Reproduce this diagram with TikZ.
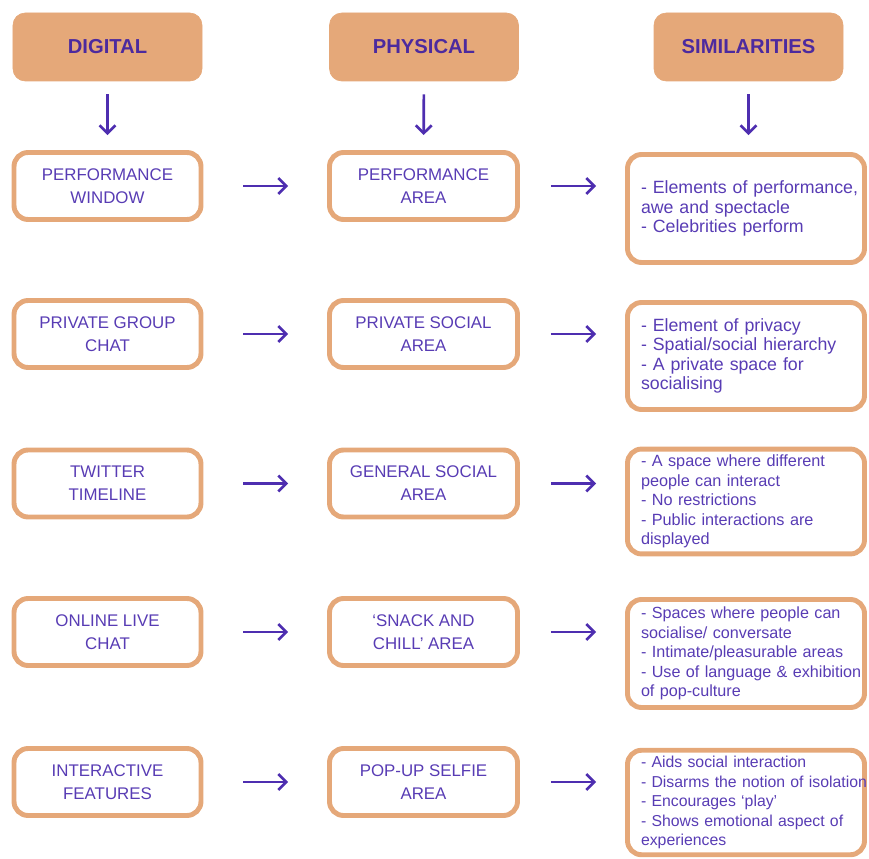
\documentclass[tikz,border=0pt]{standalone}
\usepackage{fontspec}
\setmainfont{Liberation Sans}
\usepackage{tikz}
\usetikzlibrary{arrows.meta,positioning,calc}
\definecolor{peach}{RGB}{229,168,121}
\definecolor{inkdark}{RGB}{76,42,158}
\definecolor{ink}{RGB}{88,60,180}
\definecolor{arrowink}{RGB}{78,46,176}

\begin{document}
\begin{tikzpicture}[
  head/.style={rectangle,rounded corners=7pt,draw=peach,fill=peach,
    minimum width=3.78cm,minimum height=1.36cm,align=center,
    font=\fontsize{11.5}{13}\selectfont\bfseries,text=inkdark},
  item/.style={rectangle,rounded corners=8pt,draw=peach,line width=2.8pt,
    minimum width=#1,minimum height=1.34cm,align=center,
    font=\fontsize{9.6}{13}\selectfont,text=ink},
  item/.default=3.74cm,
  note/.style={rectangle,rounded corners=8pt,draw=peach,line width=2.8pt,
    minimum width=4.74cm,text width=4.2cm,align=left,inner xsep=0.27cm,
    font=\fontsize{#1}{11.1}\selectfont,text=ink},
  note/.default=10.1,
  flow/.style={-{Straight Barb[length=4.5pt,width=9pt]},arrowink,line width=1.5pt}
]
\useasboundingbox (0,0) rectangle (17.38,-17.18);

% Column headers
\node[head] (hd) at (2.15,-0.94)  {DIGITAL};
\node[head] (hp) at (8.48,-0.94)  {PHYSICAL};
\node[head] (hs) at (14.97,-0.94) {SIMILARITIES};

% Digital column
\node[item] (d1) at (2.15,-3.72)  {PERFORMANCE\\WINDOW};
\node[item] (d2) at (2.15,-6.68)  {PRIVATE GROUP\\CHAT};
\node[item] (d3) at (2.15,-9.67)  {TWITTER\\TIMELINE};
\node[item] (d4) at (2.15,-12.64) {ONLINE LIVE\\CHAT};
\node[item] (d5) at (2.15,-15.64) {INTERACTIVE\\FEATURES};

% Physical column
\node[item=3.76cm] (p1) at (8.47,-3.72)  {PERFORMANCE\\AREA};
\node[item=3.76cm] (p2) at (8.47,-6.68)  {PRIVATE SOCIAL\\AREA};
\node[item=3.76cm] (p3) at (8.47,-9.67)  {GENERAL SOCIAL\\AREA};
\node[item=3.76cm] (p4) at (8.47,-12.64) {`SNACK AND\\CHILL' AREA};
\node[item=3.76cm] (p5) at (8.47,-15.64) {POP-UP SELFIE\\AREA};

% Similarities column
\node[note,minimum height=2.16cm] (s1) at (14.92,-4.17)
  {\mbox{- Elements of performance,}\\awe and spectacle\\- Celebrities perform};
\node[note,minimum height=2.14cm] (s2) at (14.92,-7.12)
  {- Element of privacy\\- Spatial/social hierarchy\\- A private space for\\socialising};
\node[note=9.25,minimum height=2.08cm] (s3) at (14.92,-10.03)
  {- A space where different\\people can interact\\- No restrictions\\- Public interactions are\\displayed};
\node[note=9.2,minimum height=2.16cm] (s4) at (14.92,-13.07)
  {- Spaces where people can\\socialise/ conversate\\\mbox{- Intimate/pleasurable areas}\\\mbox{- Use of language \& exhibition}\\of pop-culture};
\node[note=9.0,inner xsep=0.2cm,minimum height=2.08cm] (s5) at (14.92,-16.05)
  {- Aids social interaction\\\mbox{- Disarms the notion of isolation}\\- Encourages `play'\\\mbox{- Shows emotional aspect of}\\experiences};

% Header arrows
\draw[flow,shorten <=0.26cm,shorten >=0.3cm] (hd) -- (d1);
\draw[flow,shorten <=0.26cm,shorten >=0.3cm] (hp) -- (p1);
\draw[flow,shorten <=0.26cm,shorten >=0.34cm] (hs.south) -- (hs.south |- s1.north);

% Row arrows
\draw[flow,shorten <=0.8cm,shorten >=0.78cm] (d1) -- (p1);
\draw[flow,shorten <=0.8cm,shorten >=0.78cm] (d2) -- (p2);
\draw[flow,shorten <=0.8cm,shorten >=0.78cm] (d3) -- (p3);
\draw[flow,shorten <=0.8cm,shorten >=0.78cm] (d4) -- (p4);
\draw[flow,shorten <=0.8cm,shorten >=0.78cm] (d5) -- (p5);
\draw[flow,shorten <=0.62cm,shorten >=0.58cm] (p1.east) -- (p1 -| s1.west);
\draw[flow,shorten <=0.62cm,shorten >=0.58cm] (p2.east) -- (p2 -| s2.west);
\draw[flow,shorten <=0.62cm,shorten >=0.58cm] (p3.east) -- (p3 -| s3.west);
\draw[flow,shorten <=0.62cm,shorten >=0.58cm] (p4.east) -- (p4 -| s4.west);
\draw[flow,shorten <=0.62cm,shorten >=0.58cm] (p5.east) -- (p5 -| s5.west);
\end{tikzpicture}
\end{document}
